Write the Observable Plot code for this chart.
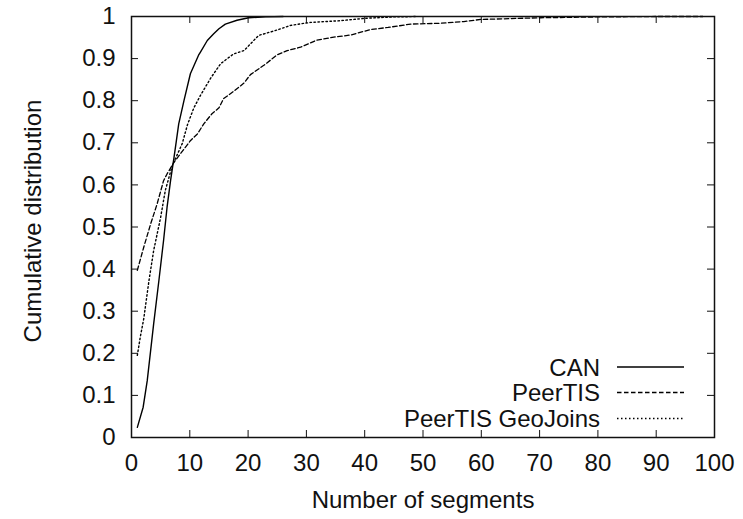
<!DOCTYPE html>
<html>
<head>
<meta charset="utf-8">
<script src="https://cdn.jsdelivr.net/npm/d3@7"></script>
<script src="https://cdn.jsdelivr.net/npm/@observablehq/plot@0.6"></script>
<style>
  html, body { margin: 0; padding: 0; background: #fff; }
  #wrap { position: relative; width: 743px; height: 519px; font-family: "Liberation Sans", Arial, sans-serif; }
  #legend { position: absolute; left: 0; top: 0; width: 743px; height: 519px; pointer-events: none; }
</style>
</head>
<body>
<div id="wrap"></div>
<script>
// ---- data ----
const seriesNames = ["CAN", "PeerTIS", "PeerTIS GeoJoins"];

const canX = [1, 2, 2.7, 3.8, 4.7, 5.5, 6.1, 6.7, 7.3, 7.7, 8.1, 9.0, 10.1, 11.5, 11.8, 13.0, 14.1, 15.0, 16.1, 18.1, 20.1, 23, 26];
const canY = [0.024, 0.072, 0.135, 0.27, 0.373, 0.468, 0.547, 0.61, 0.666, 0.705, 0.745, 0.80, 0.864, 0.908, 0.915, 0.943, 0.959, 0.971, 0.982, 0.991, 0.997, 0.999, 1.0];

const peerX = [1, 2.1, 3.3, 4.4, 5.5, 6.1, 7.3, 8.4, 10.1, 11.3, 12.4, 13.8, 15.0, 15.8, 17.5, 19.3, 20.4, 22.7, 25.0, 26.7, 29.0, 31.8, 34.7, 37.6, 41.0, 44, 47.9, 53.0, 57, 59.9, 65, 70.2, 80, 90, 98];
const peerY = [0.397, 0.452, 0.508, 0.555, 0.61, 0.626, 0.654, 0.674, 0.705, 0.721, 0.745, 0.769, 0.783, 0.805, 0.822, 0.842, 0.862, 0.884, 0.909, 0.919, 0.927, 0.944, 0.951, 0.956, 0.969, 0.974, 0.982, 0.984, 0.988, 0.993, 0.995, 0.997, 0.999, 1.0, 1.0];

const geoX = [1, 1.5, 2.1, 3.0, 3.8, 5.0, 5.8, 7.0, 8.7, 9.6, 10.7, 11.8, 13.6, 15.3, 17.5, 19.3, 21.8, 25.0, 27.3, 30.7, 35.8, 40.4, 45, 49];
const geoY = [0.195, 0.238, 0.282, 0.373, 0.444, 0.523, 0.587, 0.646, 0.698, 0.743, 0.783, 0.812, 0.854, 0.888, 0.911, 0.919, 0.955, 0.968, 0.979, 0.986, 0.99, 0.996, 0.999, 1.0];

const xTicks = [0, 10, 20, 30, 40, 50, 60, 70, 80, 90, 100];
const yTicks = [0, 0.1, 0.2, 0.3, 0.4, 0.5, 0.6, 0.7, 0.8, 0.9, 1];
const xLabel = "Number of segments";
const yLabel = "Cumulative distribution";

// ---- build tables ----
const toRows = (xs, ys) => xs.map((x, i) => ({x, y: ys[i]}));
const canRows = toRows(canX, canY);
const peerRows = toRows(peerX, peerY);
const geoRows = toRows(geoX, geoY);

const dashes = [null, "4.5,2.5", "1.5,2.5"];
const widths = [1.4, 1.3, 1.4];

const W = 743, H = 519;
const mL = 131, mR = 29, mT = 16, mB = 82;
const innerW = W - mL - mR, innerH = H - mT - mB;
const tk = 7;
const fmtY = d => (d === 0 ? "0" : d === 1 ? "1" : d3.format(".1f")(d));

const chart = Plot.plot({
  width: W,
  height: H,
  marginLeft: mL,
  marginRight: mR,
  marginTop: mT,
  marginBottom: mB,
  style: {fontFamily: "Liberation Sans, Arial, sans-serif", fontSize: "24px", color: "#000", background: "#fff"},
  x: {domain: [0, 100]},
  y: {domain: [0, 1]},
  marks: [
    Plot.axisX(xTicks, {tickSize: 0, tickPadding: 16, label: null, fontSize: 24, fill: "#111"}),
    Plot.axisY(yTicks, {tickSize: 0, tickPadding: 16, label: null, tickFormat: fmtY, fontSize: 24, fill: "#111"}),
    // inward ticks, mirrored
    Plot.tickX(xTicks, {x: d => d, insetTop: innerH - tk, stroke: "#111", strokeWidth: 1}),
    Plot.tickX(xTicks, {x: d => d, insetBottom: innerH - tk, stroke: "#111", strokeWidth: 1}),
    Plot.tickY(yTicks, {y: d => d, insetRight: innerW - tk, stroke: "#111", strokeWidth: 1}),
    Plot.tickY(yTicks, {y: d => d, insetLeft: innerW - tk, stroke: "#111", strokeWidth: 1}),
    Plot.line(canRows, {x: "x", y: "y", stroke: "#000", strokeWidth: widths[0]}),
    Plot.line(peerRows, {x: "x", y: "y", stroke: "#000", strokeWidth: widths[1], strokeDasharray: dashes[1]}),
    Plot.line(geoRows, {x: "x", y: "y", stroke: "#000", strokeWidth: widths[2], strokeDasharray: dashes[2]}),
    Plot.frame({stroke: "#111", strokeWidth: 1.5}),
    Plot.text([xLabel], {frameAnchor: "bottom", textAnchor: "middle", dy: 70, fontSize: 24, fill: "#111"}),
    Plot.text([yLabel], {frameAnchor: "left", textAnchor: "middle", rotate: -90, dx: -98, dy: -6, fontSize: 24, fill: "#111"})
  ]
});

const wrap = document.getElementById("wrap");
wrap.appendChild(chart);

// legend overlay (inside plot area, bottom-right)
const ns = "http://www.w3.org/2000/svg";
const lg = document.createElementNS(ns, "svg");
lg.setAttribute("id", "legend");
lg.setAttribute("width", W);
lg.setAttribute("height", H);
const rowsY = [367, 392.5, 418.5];
seriesNames.forEach((name, i) => {
  const t = document.createElementNS(ns, "text");
  t.setAttribute("x", 600);
  t.setAttribute("y", rowsY[i]);
  t.setAttribute("text-anchor", "end");
  t.setAttribute("dominant-baseline", "central");
  t.setAttribute("font-family", "Liberation Sans, Arial, sans-serif");
  t.setAttribute("font-size", "24");
  t.setAttribute("fill", "#111");
  t.textContent = name;
  lg.appendChild(t);
  const l = document.createElementNS(ns, "line");
  l.setAttribute("x1", 617);
  l.setAttribute("x2", 684);
  l.setAttribute("y1", rowsY[i]);
  l.setAttribute("y2", rowsY[i]);
  l.setAttribute("stroke", "#000");
  l.setAttribute("stroke-width", widths[i]);
  if (dashes[i]) l.setAttribute("stroke-dasharray", dashes[i]);
  lg.appendChild(l);
});
wrap.appendChild(lg);
</script>
</body>
</html>
